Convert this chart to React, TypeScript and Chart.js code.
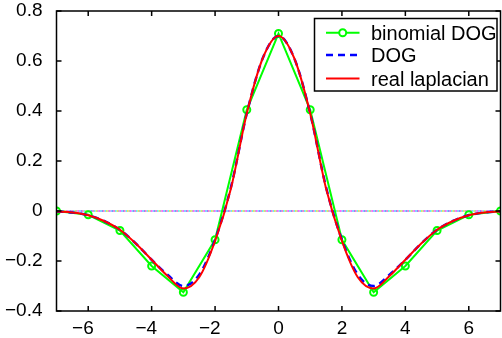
import React, { useEffect, useRef } from "react";
import { Chart, registerables } from "chart.js";

Chart.register(...registerables);

// ---- data ----
const fineX = [-7, -6.5, -6, -5.5, -5, -4.5, -4, -3.5, -3, -2.5, -2, -1.5, -1, -0.5, 0, 0.5, 1, 1.5, 2, 2.5, 3, 3.5, 4, 4.5, 5, 5.5, 6, 6.5, 7];
const laplacianY = [-0.002, -0.006, -0.017, -0.04, -0.075, -0.13, -0.195, -0.26, -0.31, -0.265, -0.12, 0.09, 0.39, 0.61, 0.7, 0.61, 0.39, 0.09, -0.12, -0.265, -0.31, -0.26, -0.195, -0.13, -0.075, -0.04, -0.017, -0.006, -0.002];
const dogY = [-0.002, -0.006, -0.017, -0.04, -0.075, -0.13, -0.195, -0.255, -0.3, -0.255, -0.115, 0.095, 0.39, 0.61, 0.7, 0.61, 0.39, 0.095, -0.115, -0.255, -0.3, -0.255, -0.195, -0.13, -0.075, -0.04, -0.017, -0.006, -0.002];
const binomX = [-7, -6, -5, -4, -3, -2, -1, 0, 1, 2, 3, 4, 5, 6, 7];
const binomY = [0, -0.015, -0.078, -0.22, -0.325, -0.115, 0.405, 0.71, 0.405, -0.115, -0.325, -0.22, -0.078, -0.015, 0];
const zeroX = [-7, 7];
const zeroY = [0, 0];
const zeroColors = ["#ff33ff", "#55ccff", "#6666ff", "#ff55bb", "#33eeee", "#dddd33", "#aaaaaa"];
const xTicks = [-6, -4, -2, 0, 2, 4, 6];
const yTicks = [-0.4, -0.2, 0, 0.2, 0.4, 0.6, 0.8];
const seriesLabels = ["binomial DOG", "DOG", "real laplacian"];

const FONT = "'Liberation Sans', Arial, Helvetica, sans-serif";

const fmt = (v: number) => {
  const r = Math.round(v * 10) / 10;
  if (r === 0) return "0";
  const s = Math.abs(r).toString();
  return r < 0 ? "\u2212" + s : s;
};

const framePlugin = {
  id: "frame",
  afterDraw(chart: any) {
    const { ctx, chartArea } = chart;
    const { left, right, top, bottom } = chartArea;
    const xs = chart.scales.x;
    const ys = chart.scales.y;
    ctx.save();
    ctx.strokeStyle = "#000";
    ctx.lineWidth = 1.5;
    ctx.strokeRect(left, top, right - left, bottom - top);
    const tl = 5;
    ctx.beginPath();
    xTicks.forEach((v) => {
      const px = xs.getPixelForValue(v);
      ctx.moveTo(px, bottom);
      ctx.lineTo(px, bottom - tl);
      ctx.moveTo(px, top);
      ctx.lineTo(px, top + tl);
    });
    yTicks.forEach((v) => {
      const py = ys.getPixelForValue(v);
      ctx.moveTo(left, py);
      ctx.lineTo(left + tl, py);
      ctx.moveTo(right, py);
      ctx.lineTo(right - tl, py);
    });
    ctx.stroke();

    // legend
    const bx = 314.5, by = 18.5, bw = 182.5, bh = 72.5;
    ctx.fillStyle = "#fff";
    ctx.fillRect(bx, by, bw, bh);
    ctx.lineWidth = 1.5;
    ctx.strokeStyle = "#000";
    ctx.strokeRect(bx, by, bw, bh);
    const rows = [32.7, 55, 78.5];
    const ds = chart.data.datasets;
    ctx.font = "20px " + FONT;
    ctx.textBaseline = "alphabetic";
    ctx.textAlign = "left";
    for (let i = 0; i < 3; i++) {
      const d = ds[i];
      const y = rows[i];
      ctx.save();
      ctx.strokeStyle = d.borderColor;
      ctx.lineWidth = d.borderWidth;
      ctx.setLineDash(d.borderDash || []);
      ctx.beginPath();
      ctx.moveTo(326, y);
      ctx.lineTo(359.5, y);
      ctx.stroke();
      ctx.setLineDash([]);
      if (d.pointRadius > 0) {
        ctx.beginPath();
        ctx.arc(342.7, y, d.pointRadius, 0, Math.PI * 2);
        ctx.fillStyle = "#fff";
        ctx.fill();
        ctx.lineWidth = d.pointBorderWidth;
        ctx.stroke();
      }
      ctx.restore();
      ctx.fillStyle = "#000";
      ctx.fillText(d.label, 371, y + 7);
    }
    ctx.restore();
  },
};

export default function App() {
  const ref = useRef<HTMLCanvasElement | null>(null);
  useEffect(() => {
    document.body.style.margin = "0";
    const canvas = ref.current;
    if (!canvas) return;
    const zeroSets = zeroColors.map((c, i) => ({
      label: "zero" + i,
      data: zeroX.map((x, k) => ({ x, y: zeroY[k] })),
      borderColor: c,
      borderWidth: 1.5,
      borderDash: [1.5, 9],
      borderDashOffset: -i * 1.5,
      pointRadius: 0,
      order: 10 + i,
      clip: 0,
    }));
    const chart = new Chart(canvas, {
      type: "line",
      data: {
        datasets: [
          {
            label: seriesLabels[0],
            data: binomX.map((x, k) => ({ x, y: binomY[k] })),
            borderColor: "#00ff00",
            borderWidth: 2,
            pointRadius: 3.5,
            pointBorderWidth: 2,
            pointBackgroundColor: "rgba(0,0,0,0)",
            pointBorderColor: "#00ff00",
            tension: 0,
            order: 3,
            clip: 0,
          },
          {
            label: seriesLabels[1],
            data: fineX.map((x, k) => ({ x, y: dogY[k] })),
            borderColor: "#0000ff",
            borderWidth: 2.5,
            borderDash: [7, 5],
            pointRadius: 0,
            cubicInterpolationMode: "monotone",
            order: 2,
            clip: 0,
          },
          {
            label: seriesLabels[2],
            data: fineX.map((x, k) => ({ x, y: laplacianY[k] })),
            borderColor: "#ff0000",
            borderWidth: 2,
            pointRadius: 0,
            cubicInterpolationMode: "monotone",
            order: 1,
            clip: 0,
          },
          ...zeroSets,
        ] as any,
      },
      options: {
        animation: false,
        responsive: false,
        devicePixelRatio: 1,
        layout: { autoPadding: false, padding: { left: 0, right: 1.5, top: 11, bottom: 0 } },
        plugins: { legend: { display: false }, tooltip: { enabled: false } },
        events: [],
        scales: {
          x: {
            type: "linear",
            min: -7,
            max: 7,
            grid: { display: false },
            border: { display: false },
            afterBuildTicks: (s: any) => {
              s.ticks = xTicks.map((v) => ({ value: v }));
            },
            afterFit: (s: any) => {
              s.height = 27;
              s.paddingLeft = 0;
              s.paddingRight = 0;
            },
            ticks: {
              color: "#000",
              padding: -1.5,
              maxRotation: 0,
              autoSkip: false,
              font: { family: FONT, size: 19 },
              callback: (v: any) => (Number(v) < 0 ? fmt(Number(v)) + "\u2007" : fmt(Number(v))),
            },
          },
          y: {
            type: "linear",
            min: -0.4,
            max: 0.8,
            grid: { display: false },
            border: { display: false },
            afterBuildTicks: (s: any) => {
              s.ticks = yTicks.map((v) => ({ value: v }));
            },
            afterFit: (s: any) => {
              s.width = 56.5;
              s.paddingTop = 0;
              s.paddingBottom = 0;
            },
            ticks: {
              color: "#000",
              padding: 6,
              autoSkip: false,
              font: { family: FONT, size: 19 },
              callback: (v: any) => fmt(Number(v)),
            },
          },
        },
      },
      plugins: [framePlugin],
    });
    return () => chart.destroy();
  }, []);
  return (
    <div style={{ width: 502, height: 338, background: "#fff" }}>
      <canvas ref={ref} width={502} height={338} style={{ display: "block" }} />
    </div>
  );
}
